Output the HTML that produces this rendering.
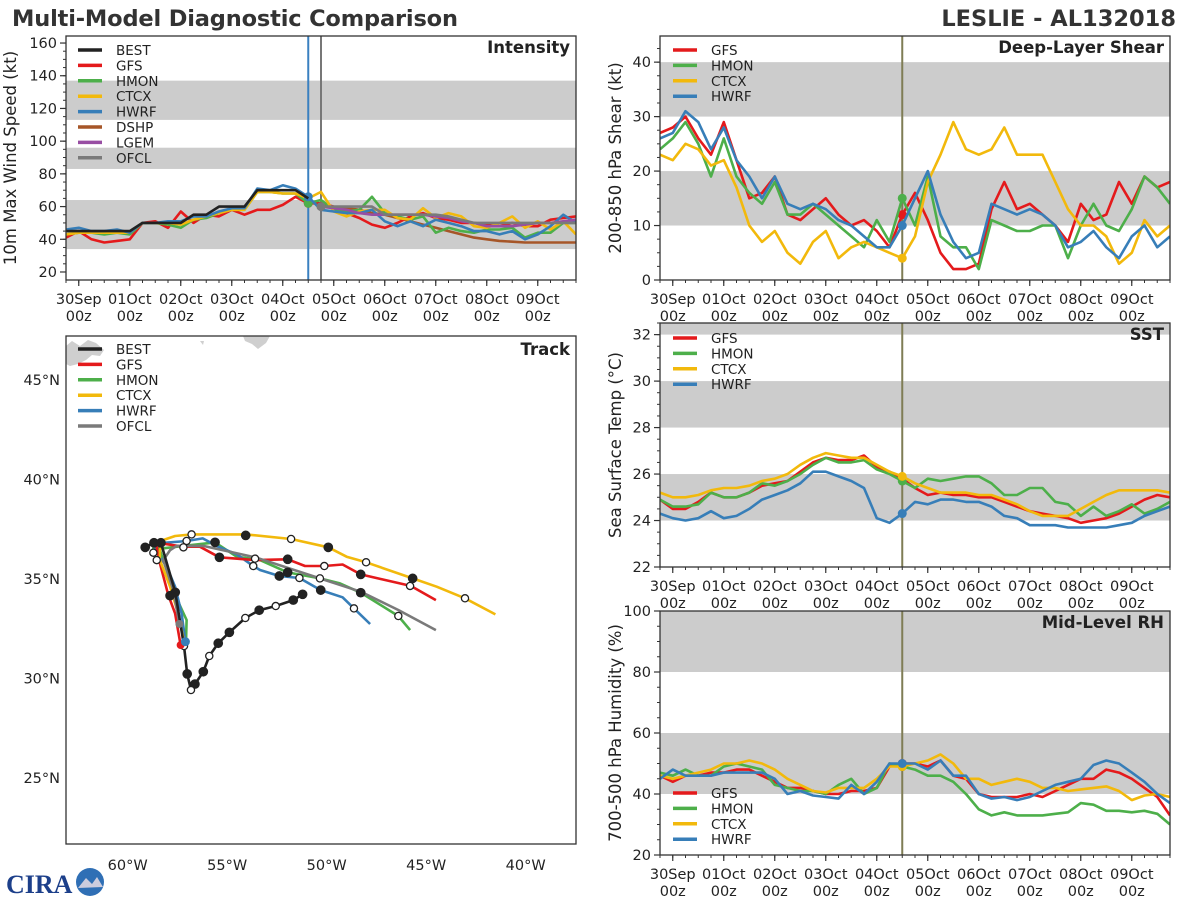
<!DOCTYPE html>
<html><head><meta charset="utf-8">
<style>
html,body{margin:0;padding:0;background:#fff;}
svg{display:block;font-family:"DejaVu Sans","Liberation Sans",sans-serif;}
</style></head>
<body>
<svg id="fig" width="1200" height="900" viewBox="0 0 1200 900" xmlns="http://www.w3.org/2000/svg">
<rect width="1200" height="900" fill="#fff"/>
<text x="12" y="26" font-size="22.5" font-weight="bold" fill="#333" textLength="446">Multi-Model Diagnostic Comparison</text>
<text x="1176" y="26" font-size="22.5" font-weight="bold" fill="#333" text-anchor="end">LESLIE - AL132018</text>
<g>
<text x="6" y="893" font-size="26" font-weight="bold" fill="#1c3f8a" font-family="Liberation Serif, serif">CIRA</text>
<circle cx="90" cy="882" r="14" fill="#2f6fb5"/>
<path d="M78 888 L86 878 L92 884 L97 877 L103 887 Z" fill="#ccd"/>
</g>
<g id="root"></g>
</svg>
<script>
// ---------- data ----------
const dayLabels = ["30Sep","01Oct","02Oct","03Oct","04Oct","05Oct","06Oct","07Oct","08Oct","09Oct"];
const stepHours = 6; // series sampled every 6h starting 29Sep 18z (t=-0.25 d)

const intBEST = [45,45,45,45,45,45,50,50,50,50,55,55,60,60,60,70,70,70,70,65];
const intGFS  = [41,45,40,38,39,40,50,51,47,57,50,55,54,58,55,58,58,61,66,62,62,60,56,53,49,47,50,54,56,53,52,50,50,49,48,50,48,48,52,53,54];
const intHMON = [43,44,44,43,44,43,50,50,49,47,52,53,56,58,58,69,69,68,68,62,64,58,57,58,66,56,54,52,54,44,47,45,44,46,46,47,41,44,44,50,50];
const intCTCX = [43,44,44,44,44,44,50,50,50,49,52,54,56,58,58,69,69,68,68,65,69,57,54,57,58,58,53,52,59,53,56,54,48,47,50,54,47,51,46,51,43];
const intHWRF = [46,47,45,45,46,44,50,50,51,51,54,54,57,59,59,71,70,73,71,66,58,57,56,56,58,51,48,51,48,52,50,48,45,45,43,45,40,43,48,55,50];
const intDSHP = [60,59.5,59,58,56,55,53,51,49,47,45,43,41,40,39,38.5,38,38,38,38,38];
const intLGEM = [60,59,58,56,55,55,55,55,55,54,53,51,50,48,48,48,49,50,50,51,52];
const intOFCL = [60,60,60,60,60,55,55,55,55,55,54,52,50,50,50,50,50,50,50,50,50];
const intForecastStart = 20; // index of 04Oct18z

const shrGFS  = [27,28,30,26,23,29,22,15,16,19,12,11,13,15,12,10,11,9,6,12,16,11,5,2,2,3,13,18,13,14,12,10,7,14,11,12,18,14,19,17,18];
const shrHMON = [24,26,29,25,19,26,19,16,14,18,12,12,14,12,10,8,6,11,7,15,10,19,8,6,6,2,11,10,9,9,10,10,4,10,14,10,9,13,19,17,14];
const shrCTCX = [23,22,25,24,21,22,17,10,7,9,5,3,7,9,4,6,7,6,5,4,8,18,23,29,24,23,24,28,23,23,23,18,13,10,10,8,3,5,11,8,10];
const shrHWRF = [26,27,31,29,24,28,22,19,15,19,14,13,14,13,11,10,8,6,6,10,15,20,12,7,4,5,14,13,12,13,12,10,6,7,9,6,4,8,10,6,8];

const sstGFS  = [24.9,24.5,24.5,24.8,25.2,25.0,25.0,25.2,25.5,25.6,25.7,26.1,26.5,26.7,26.6,26.6,26.8,26.3,26.1,25.8,25.4,25.1,25.2,25.1,25.1,25.0,25.0,24.8,24.6,24.4,24.3,24.2,24.1,23.9,24.0,24.1,24.3,24.6,24.9,25.1,25.0];
const sstHMON = [24.9,24.6,24.6,24.7,25.2,25.0,25.0,25.2,25.6,25.5,25.7,26.0,26.4,26.7,26.5,26.5,26.6,26.2,26.0,25.7,25.4,25.8,25.7,25.8,25.9,25.9,25.6,25.1,25.1,25.4,25.4,24.8,24.7,24.2,24.6,24.2,24.4,24.7,24.3,24.5,24.8];
const sstCTCX = [25.2,25.0,25.0,25.1,25.3,25.4,25.4,25.5,25.7,25.8,26.0,26.4,26.7,26.9,26.8,26.7,26.7,26.4,26.1,25.9,25.6,25.4,25.2,25.2,25.2,25.1,25.1,24.9,24.7,24.4,24.2,24.2,24.2,24.5,24.8,25.1,25.3,25.3,25.3,25.3,25.2];
const sstHWRF = [24.3,24.1,24.0,24.1,24.4,24.1,24.2,24.5,24.9,25.1,25.3,25.6,26.1,26.1,25.9,25.7,25.4,24.1,23.9,24.3,24.8,24.7,24.9,24.9,24.8,24.8,24.6,24.2,24.1,23.8,23.8,23.8,23.7,23.7,23.7,23.7,23.8,23.9,24.2,24.4,24.6];

const rhGFS  = [46,44,46,46,47,47,48,48,46,44,42,42,41,40,40,41,41,42,49,50,50,49,51,46,45,40,39,39,39,40,39,41,43,45,45,48,47,45,42,39,33];
const rhHMON = [47,46,48,46,46,49,50,49,48,43,42,41,41,40,43,45,40,42,50,49,48,46,46,44,40,35,33,34,33,33,33,33.5,34,37,36.5,34.5,34.5,34,34.5,33.5,30];
const rhCTCX = [46,45,46,47,48,50,50,51,50,48,45,43,41,40.5,42,42,42,45,49,49,50,51,53,50,45,45,43,44,45,44,42,42,41,41.5,42,42.5,41,38,39.5,40,39];
const rhHWRF = [45,48,46,46,46,47,47,47,47,45,40,41,39.5,39,38.5,43,40,44,50,50,50,48,51,46,46,40,38.5,39,38,39,41,43,44,45,49.5,51,50,47,44,40,37];

// track data (lon, lat)
const trkBESTlon = [-51.21,-51.68,-52.56,-53.39,-54.09,-54.89,-55.45,-55.90,-56.20,-56.62,-56.82,-57.01,-57.17,-57.61,-58.33,-58.68,-59.12];
const trkBESTlat = [34.22,33.93,33.63,33.42,33.03,32.31,31.76,31.12,30.33,29.71,29.41,30.22,31.62,34.32,36.81,36.81,36.58];
const trkBESTfill = [1,1,0,1,0,1,1,0,1,1,0,1,0,1,1,1,1];
const trkGFSlon = [-57.34,-57.62,-57.96,-58.38,-58.54,-58.33,-57.20,-56.37,-55.39,-53.60,-51.96,-51.09,-50.12,-49.20,-48.29,-45.78,-44.51];
const trkGFSlat = [31.67,33.26,34.18,35.78,36.58,36.78,36.61,36.61,36.08,35.94,35.98,35.64,35.64,35.72,35.22,34.64,33.93];
const trkHMONlon = [-57.07,-57.04,-57.42,-57.79,-58.21,-58.38,-58.71,-58.21,-57.20,-55.61,-54.52,-53.35,-51.96,-50.34,-49.33,-48.29,-46.40,-45.81];
const trkHMONlat = [31.84,32.93,33.76,34.77,35.94,36.44,36.53,36.53,36.65,36.83,36.11,35.94,35.32,35.02,34.77,34.30,33.13,32.42];
const trkCTCXlon = [-57.17,-57.46,-57.87,-58.38,-58.38,-58.21,-57.62,-56.79,-54.07,-51.79,-49.92,-49.00,-48.02,-45.68,-44.47,-43.05,-41.52];
const trkCTCXlat = [31.84,33.26,34.60,35.94,36.44,36.95,37.15,37.23,37.23,37.00,36.58,36.11,35.83,35.02,34.60,34.02,33.21];
const trkHWRFlon = [-57.10,-57.29,-57.62,-58.04,-58.38,-58.63,-58.54,-57.04,-56.23,-55.45,-54.52,-53.69,-53.35,-52.38,-51.37,-50.30,-49.20,-48.63,-47.82];
const trkHWRFlat = [31.84,33.26,34.60,35.61,36.11,36.44,36.78,36.90,37.03,36.61,36.23,35.64,35.44,35.14,35.04,34.43,34.07,33.51,32.73];
const trkOFCLlon = [-57.40,-57.71,-58.21,-57.87,-57.54,-56.20,-53.52,-50.34,-48.29,-46.40,-44.51];
const trkOFCLlat = [32.73,34.43,35.94,36.44,36.65,36.65,36.06,35.02,34.35,33.43,32.42];
const mkLon  = [-55.39,-53.60,-51.96,-50.12,-48.29,-45.81,-56.79,-54.07,-51.79,-49.92,-48.02,-45.68,-43.05,-57.04,-53.69,-52.38,-51.37,-50.30,-48.63,-55.61,-51.96,-50.34,-48.29,-46.40,-57.20,-58.71,-58.54,-57.87];
const mkLat  = [36.08,36.01,35.98,35.64,35.22,34.64,37.23,37.18,37.00,36.58,35.83,35.02,34.02,36.90,35.64,35.14,35.04,34.43,33.51,36.83,35.32,35.02,34.30,33.13,36.58,36.31,35.94,34.15];
const mkFill = [1,0,1,0,1,0,0,1,0,1,0,1,0,0,0,1,0,1,0,1,1,0,1,0,0,0,0,1];
const lonTicks = [-60,-55,-50,-45,-40];
const latTicks = [25,30,35,40,45];

const COL = {BEST:"#222222",GFS:"#e41a1c",HMON:"#4daf4a",CTCX:"#f2b90c",HWRF:"#377eb8",DSHP:"#a65628",LGEM:"#984ea3",OFCL:"#7a7a7a"};

// ---------- helpers ----------
const NS="http://www.w3.org/2000/svg";
const root=document.getElementById("root");
function mk(tag,attrs,parent){const e=document.createElementNS(NS,tag);for(const k in attrs)e.setAttribute(k,attrs[k]);(parent||root).appendChild(e);return e;}
function txt(s,attrs,parent){const e=mk("text",attrs,parent);e.textContent=s;return e;}

function timePanel(cfg){
  const g=mk("g",{});
  
  
  const {x0,y0,w,h,ymin,ymax}=cfg;
  const tmin=-0.25,tmax=9.75;
  const X=t=>x0+(t-tmin)/(tmax-tmin)*w;
  const Y=v=>y0+h-(v-ymin)/(ymax-ymin)*h;
  const cl="clip"+cfg.name;
  const cp=mk("clipPath",{id:cl},g);mk("rect",{x:x0,y:y0,width:w,height:h},cp);
  const inner=mk("g",{"clip-path":"url(#"+cl+")"},g);
  cfg.bands.forEach(b=>{
    const r=mk("rect",{x:x0,y:Y(b[1]),width:w,height:Y(b[0])-Y(b[1]),fill:"#cccccc"},inner);
    
    
  });
  cfg.vlines.forEach(v=>{mk("line",{x1:X(v[0]),x2:X(v[0]),y1:y0,y2:y0+h,stroke:v[1],"stroke-width":2},inner);});
  cfg.series.forEach(s=>{
    const off=s.start||0;let d="";
    s.data.forEach((v,i)=>{if(v==null)return;const t=-0.25+(i+off)*stepHours/24;d+=(d?"L":"M")+X(t).toFixed(1)+" "+Y(v).toFixed(1);});
    const p=mk("path",{d:d,fill:"none",stroke:COL[s.k],"stroke-width":2.6,"stroke-linejoin":"round"},inner);
    
    
    if(s.dot!=null){const i=s.dot-off;const t=-0.25+s.dot*stepHours/24;mk("circle",{cx:X(t),cy:Y(s.data[i]),r:4.5,fill:COL[s.k]},inner);}
  });
  mk("rect",{x:x0,y:y0,width:w,height:h,fill:"none",stroke:"#333","stroke-width":1.3},g);
  for(let v=cfg.tick0;v<=ymax+1e-6;v+=cfg.tickStep){
    mk("line",{x1:x0-6,x2:x0,y1:Y(v),y2:Y(v),stroke:"#333","stroke-width":1.2},g);
    txt(String(v),{x:x0-9,y:Y(v)+5,"font-size":14.5,"text-anchor":"end",fill:"#222"},g);
  }
  for(let v=cfg.minor0;v<=ymax+1e-6;v+=cfg.minorStep){
    mk("line",{x1:x0-3,x2:x0,y1:Y(v),y2:Y(v),stroke:"#333","stroke-width":1},g);
  }
  for(let i=0;i<dayLabels.length;i++){
    const xx=X(i);
    mk("line",{x1:xx,x2:xx,y1:y0+h,y2:y0+h+6,stroke:"#333","stroke-width":1.2},g);
    const l=txt(dayLabels[i],{x:xx,y:y0+h+24,"font-size":14.5,"text-anchor":"middle",fill:"#222"},g);
    
    
    txt("00z",{x:xx,y:y0+h+41,"font-size":14.5,"text-anchor":"middle",fill:"#222"},g);
  }
  for(let t=-0.25;t<=9.75;t+=0.25){mk("line",{x1:X(t),x2:X(t),y1:y0+h,y2:y0+h+3,stroke:"#333","stroke-width":1},g);}
  const yt=txt(cfg.ytitle,{transform:`translate(${cfg.ytx},${y0+h/2}) rotate(-90)`,"font-size":16.5,"text-anchor":"middle",fill:"#222"},g);
  
  
  const tt=txt(cfg.title,{x:x0+w-6,y:y0+17,"font-size":16.5,"font-weight":"bold","text-anchor":"end",fill:"#222"},g);
  
  
  legend(g,cfg.legend,cfg.legX,cfg.legY);
}
function legend(g,keys,lx,ly){
  keys.forEach((k,i)=>{
    const y=ly+i*15.4;
    const e=mk("g",{},g);
    
    
    mk("line",{x1:lx,x2:lx+24,y1:y,y2:y,stroke:COL[k],"stroke-width":3.5},e);
    txt(k,{x:lx+38,y:y+5,"font-size":13.5,fill:"#222"},e);
  });
}

timePanel({name:"intensity-panel",x0:66,y0:36,w:510,h:244,ymin:15.1,ymax:164.3,tick0:20,tickStep:20,minor0:20,minorStep:5,
  bands:[[34,64],[83,96],[113,137]],vlines:[[4.5,"#3a80c0"],[4.75,"#777"]],
  series:[{k:"DSHP",data:intDSHP,start:intForecastStart},{k:"GFS",data:intGFS,dot:19},{k:"HMON",data:intHMON,dot:19},{k:"CTCX",data:intCTCX},{k:"HWRF",data:intHWRF,dot:19},
  {k:"LGEM",data:intLGEM,start:intForecastStart},{k:"OFCL",data:intOFCL,start:intForecastStart,dot:20},{k:"BEST",data:intBEST}],
  ytitle:"10m Max Wind Speed (kt)",ytx:16,title:"Intensity",legend:["BEST","GFS","HMON","CTCX","HWRF","DSHP","LGEM","OFCL"],legX:78,legY:50});
timePanel({name:"shear-panel",x0:660,y0:36,w:510,h:244,ymin:0,ymax:44.8,tick0:0,tickStep:10,minor0:0,minorStep:2.5,
  bands:[[10,20],[30,40]],vlines:[[4.5,"#7f7d55"]],
  series:[{k:"GFS",data:shrGFS,dot:19},{k:"HMON",data:shrHMON,dot:19},{k:"CTCX",data:shrCTCX,dot:19},{k:"HWRF",data:shrHWRF,dot:19}],
  ytitle:"200-850 hPa Shear (kt)",ytx:621,title:"Deep-Layer Shear",legend:["GFS","HMON","CTCX","HWRF"],legX:673,legY:50});
timePanel({name:"sst-panel",x0:660,y0:323,w:510,h:244,ymin:22,ymax:32.5,tick0:22,tickStep:2,minor0:22,minorStep:0.5,
  bands:[[24,26],[28,30],[32,34]],vlines:[[4.5,"#7f7d55"]],
  series:[{k:"GFS",data:sstGFS,dot:19},{k:"HMON",data:sstHMON,dot:19},{k:"CTCX",data:sstCTCX,dot:19},{k:"HWRF",data:sstHWRF,dot:19}],
  ytitle:"Sea Surface Temp (°C)",ytx:621,title:"SST",legend:["GFS","HMON","CTCX","HWRF"],legX:673,legY:338});
timePanel({name:"rh-panel",x0:660,y0:611,w:510,h:244,ymin:20,ymax:100,tick0:20,tickStep:20,minor0:20,minorStep:5,
  bands:[[40,60],[80,100]],vlines:[[4.5,"#7f7d55"]],
  series:[{k:"GFS",data:rhGFS,dot:19},{k:"HMON",data:rhHMON,dot:19},{k:"CTCX",data:rhCTCX,dot:19},{k:"HWRF",data:rhHWRF,dot:19}],
  ytitle:"700-500 hPa Humidity (%)",ytx:621,title:"Mid-Level RH",legend:["GFS","HMON","CTCX","HWRF"],legX:673,legY:793});

(function(){
  const g=mk("g",{});
  
  
  const x0=66,y0=336,w=510,h=508;
  const LX=lon=>x0+(lon+63.1)*19.9;
  const LY=lat=>y0+(47.2-lat)*19.9;
  const cp=mk("clipPath",{id:"cliptrack"},g);mk("rect",{x:x0,y:y0,width:w,height:h},cp);
  const inner=mk("g",{"clip-path":"url(#cliptrack)"},g);
  const land1=mk("path",{d:"M66 346 L72 341 L80 346 L88 340 L96 343 L104 350 L100 356 L92 355 L86 360 L78 364 L70 366 L66 364 Z",fill:"#cfcfcf"},inner);
  
  
  const land2=mk("path",{d:"M243 336 L270 336 L266 343 L258 349 L252 344 L245 341 Z M200 341 L204 341 L203 345 Z",fill:"#cfcfcf"},inner);
  
  
  const tracks=[["HMON",trkHMONlon,trkHMONlat],["HWRF",trkHWRFlon,trkHWRFlat],["GFS",trkGFSlon,trkGFSlat],["CTCX",trkCTCXlon,trkCTCXlat],["OFCL",trkOFCLlon,trkOFCLlat],["BEST",trkBESTlon,trkBESTlat]];
  tracks.forEach(t=>{
    let d="";t[1].forEach((lon,i)=>{d+=(i?"L":"M")+LX(lon).toFixed(1)+" "+LY(t[2][i]).toFixed(1);});
    const p=mk("path",{d:d,fill:"none",stroke:COL[t[0]],"stroke-width":2.6,"stroke-linejoin":"round"},inner);
    
    
  });
  trkBESTlon.forEach((lon,i)=>{mk("circle",{cx:LX(lon),cy:LY(trkBESTlat[i]),r:trkBESTfill[i]?4.2:3.6,fill:trkBESTfill[i]?"#222":"#fff",stroke:"#222","stroke-width":1.3},inner);});
  mkLon.forEach((lon,i)=>{mk("circle",{cx:LX(lon),cy:LY(mkLat[i]),r:mkFill[i]?4.2:3.6,fill:mkFill[i]?"#222":"#fff",stroke:"#222","stroke-width":1.3},inner);});
  mk("circle",{cx:LX(-57.4),cy:LY(32.73),r:4,fill:COL.OFCL},inner);
  mk("circle",{cx:LX(-57.34),cy:LY(31.67),r:4,fill:COL.GFS},inner);
  mk("circle",{cx:LX(-57.10),cy:LY(31.84),r:4.5,fill:COL.HWRF},inner);
  mk("rect",{x:x0,y:y0,width:w,height:h,fill:"none",stroke:"#333","stroke-width":1.3},g);
  lonTicks.forEach(lon=>{const l=txt(Math.abs(lon)+"°W",{x:LX(lon),y:870,"font-size":14.5,"text-anchor":"middle",fill:"#222"},g);
    
    });
  latTicks.forEach(lat=>{const l=txt(lat+"°N",{x:60,y:LY(lat)+5,"font-size":14.5,"text-anchor":"end",fill:"#222"},g);
    
    });
  const tt=txt("Track",{x:x0+w-6,y:y0+19,"font-size":16.5,"font-weight":"bold","text-anchor":"end",fill:"#222"},g);
  
  
  legend(g,["BEST","GFS","HMON","CTCX","HWRF","OFCL"],78,349);
})();
</script>
</body></html>
